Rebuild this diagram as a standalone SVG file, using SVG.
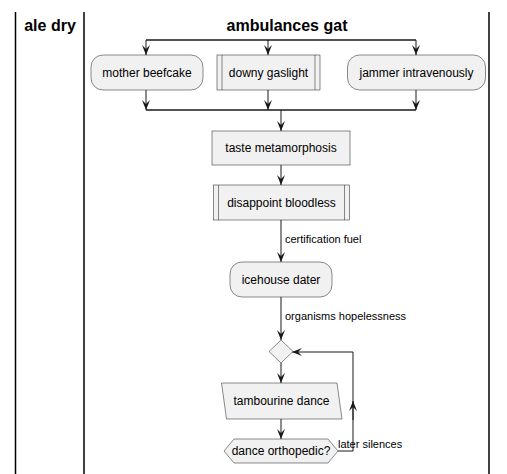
<svg xmlns="http://www.w3.org/2000/svg" width="507" height="474" viewBox="0 0 507 474">
<style>
.lane{stroke:#000;stroke-width:1.5;fill:none}
.title{font-family:"Liberation Sans",Arial,sans-serif;font-size:16px;font-weight:bold;fill:#000;text-anchor:middle}
.node{fill:#F1F1F1;stroke:#181818;stroke-width:0.5}
.txt{font-family:"Liberation Sans",Arial,sans-serif;font-size:12px;fill:#000;text-anchor:middle}
.lbl{font-family:"Liberation Sans",Arial,sans-serif;font-size:11px;fill:#000}
.edge{stroke:#181818;stroke-width:1;fill:none}
.bar{stroke:#181818;stroke-width:1.5;fill:none}
</style>
<defs>
<marker id="arr" viewBox="0 0 10 10" refX="10" refY="5" markerWidth="10" markerHeight="10" markerUnits="userSpaceOnUse" orient="auto">
<path d="M0,1 L10,5 L0,9 L4,5 Z" fill="#181818"/>
</marker>
</defs>
<g id="lanes">
<line class="lane" x1="15.5" y1="12" x2="15.5" y2="474"/>
<line class="lane" x1="84" y1="12" x2="84" y2="474"/>
<line class="lane" x1="489" y1="12" x2="489" y2="474"/>
<text class="title" x="50" y="31">ale dry</text>
<text class="title" x="287" y="31">ambulances gat</text>
</g>
<g id="connectors">
<line class="bar" x1="146" y1="40" x2="416" y2="40"/>
<line class="edge" x1="146" y1="40" x2="146" y2="55" marker-end="url(#arr)"/>
<line class="edge" x1="268" y1="40" x2="268" y2="55" marker-end="url(#arr)"/>
<line class="edge" x1="416" y1="40" x2="416" y2="55" marker-end="url(#arr)"/>
<line class="edge" x1="146" y1="90" x2="146" y2="110" marker-end="url(#arr)"/>
<line class="edge" x1="268" y1="90" x2="268" y2="110" marker-end="url(#arr)"/>
<line class="edge" x1="416" y1="90" x2="416" y2="110" marker-end="url(#arr)"/>
<line class="bar" x1="146" y1="110" x2="416" y2="110"/>
<line class="edge" x1="281" y1="110" x2="281" y2="131" marker-end="url(#arr)"/>
<line class="edge" x1="281" y1="165" x2="281" y2="185" marker-end="url(#arr)"/>
<line class="edge" x1="281" y1="220" x2="281" y2="262" marker-end="url(#arr)"/>
<text class="lbl" x="285" y="243">certification fuel</text>
<line class="edge" x1="281" y1="297" x2="281" y2="340" marker-end="url(#arr)"/>
<text class="lbl" x="285" y="320">organisms hopelessness</text>
<line class="edge" x1="281" y1="363" x2="281" y2="383" marker-end="url(#arr)"/>
<line class="edge" x1="281" y1="419" x2="281" y2="439" marker-end="url(#arr)"/>
<polyline class="edge" points="338,451 353,451 353,352 292,352" marker-end="url(#arr)"/>
<line class="edge" x1="353" y1="420" x2="353" y2="401" marker-end="url(#arr)"/>
<text class="lbl" x="338" y="448">later silences</text>
</g>
<g id="mother-beefcake">
<rect class="node" x="91" y="55" width="112" height="35" rx="12" ry="12"/>
<text class="txt" x="147" y="77">mother beefcake</text>
</g>
<g id="downy-gaslight">
<rect class="node" x="217" y="55" width="103" height="35"/>
<line class="node" x1="222" y1="55" x2="222" y2="90"/>
<line class="node" x1="315" y1="55" x2="315" y2="90"/>
<text class="txt" x="268.5" y="77">downy gaslight</text>
</g>
<g id="jammer-intravenously">
<rect class="node" x="347.5" y="55" width="138" height="35" rx="12" ry="12"/>
<text class="txt" x="416.5" y="77">jammer intravenously</text>
</g>
<g id="taste-metamorphosis">
<rect class="node" x="212" y="131" width="138" height="34"/>
<text class="txt" x="281" y="152">taste metamorphosis</text>
</g>
<g id="disappoint-bloodless">
<rect class="node" x="213.5" y="185" width="136" height="35"/>
<line class="node" x1="218.5" y1="185" x2="218.5" y2="220"/>
<line class="node" x1="344.5" y1="185" x2="344.5" y2="220"/>
<text class="txt" x="281.5" y="207">disappoint bloodless</text>
</g>
<g id="icehouse-dater">
<rect class="node" x="230" y="262" width="102" height="35" rx="12" ry="12"/>
<text class="txt" x="281" y="284">icehouse dater</text>
</g>
<g id="merge">
<polygon class="node" points="281,340 293,351.5 281,363 269,351.5"/>
</g>
<g id="tambourine-dance">
<polygon class="node" points="221.5,383 337,383 342,419 226.5,419"/>
<text class="txt" x="281.5" y="405">tambourine dance</text>
</g>
<g id="dance-orthopedic">
<polygon class="node" points="224,451 234,439 328,439 338,451 328,463 234,463"/>
<text class="txt" x="281" y="455">dance orthopedic?</text>
</g>
</svg>
